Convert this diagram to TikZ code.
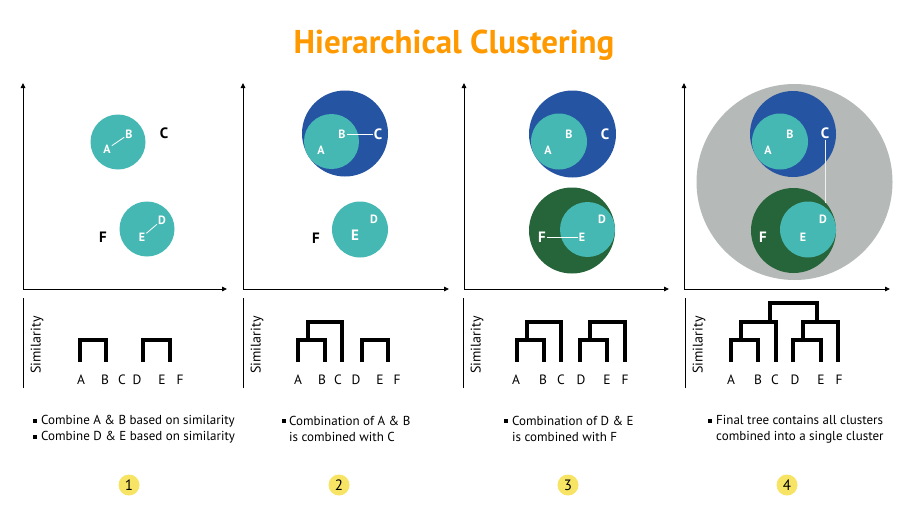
\documentclass[tikz,border=0pt]{standalone}
\usepackage{fontspec}
\setmainfont{PT Sans}
\usetikzlibrary{arrows.meta}
\definecolor{tealc}{RGB}{69,184,180}
\definecolor{bluec}{RGB}{37,84,163}
\definecolor{greenc}{RGB}{38,100,58}
\definecolor{grayc}{RGB}{181,185,183}
\definecolor{yelc}{RGB}{248,228,100}
\definecolor{orangec}{RGB}{255,153,0}
\begin{document}
\begin{tikzpicture}[x=1pt,y=-1pt,
  axis/.style={line width=0.9pt,-{Triangle[length=5pt,width=4.5pt]}},
  tree/.style={line width=4.5pt,line cap=butt,line join=miter},
  disc/.style={circle,inner sep=0pt,minimum size=#1},
  inl/.style={font=\fontsize{12}{12}\selectfont\bfseries,text=white,inner sep=1pt},
  inbig/.style={font=\fontsize{15}{15}\selectfont\bfseries,text=white,inner sep=1pt},
  outl/.style={font=\fontsize{15}{15}\selectfont\bfseries,text=black,inner sep=1pt},
  link/.style={draw=white,line width=0.8pt},
  leaf/.style={font=\fontsize{13.5}{13.5}\selectfont,inner sep=0pt},
  simlab/.style={rotate=90,font=\fontsize{14}{14}\selectfont},
  body/.style={font=\fontsize{13}{16}\selectfont,align=left,anchor=west,inner sep=0pt},
  bul/.style={fill=black,inner sep=0pt,minimum size=3.8pt},
  num/.style={circle,fill=yelc,inner sep=0pt,minimum size=21pt,font=\fontsize{15}{15}\selectfont}
]
\useasboundingbox[fill=white] (0,0) rectangle (912,509);

% title
\node[font=\fontsize{33}{33}\selectfont\bfseries,text=orangec] (title) at (454,45) {Hierarchical Clustering};

% ---------- Panel 1 ----------
\coordinate (o1) at (23,289);
\coordinate (y1) at (23,83);
\coordinate (x1) at (227,289);
\draw[axis] (o1) -- (y1);
\draw[axis] (o1) -- (x1);
\node[disc=55pt,fill=tealc] (p1ab) at (118,142) {};
\node[disc=55pt,fill=tealc] (p1de) at (147,229) {};
\node[inl] (p1A) at (107,149) {A};
\node[inl] (p1B) at (129,134) {B};
\node[inl] (p1D) at (162,220) {D};
\node[inl] (p1E) at (142,237) {E};
\draw[link] (p1A) -- (p1B);
\draw[link] (p1E) -- (p1D);
\node[outl] (p1C) at (164,133) {C};
\node[outl] (p1F) at (103,237) {F};

% ---------- Panel 2 ----------
\coordinate (o2) at (243,289);
\coordinate (y2) at (243,83);
\coordinate (x2) at (449,289);
\draw[axis] (o2) -- (y2);
\draw[axis] (o2) -- (x2);
\node[disc=86pt,fill=bluec] (p2abc) at (345,133.5) {};
\node[disc=55pt,fill=tealc] (p2ab) at (331.5,141.5) {};
\node[disc=56pt,fill=tealc] (p2de) at (360,229.5) {};
\node[inl] (p2A) at (321,150) {A};
\node[inl] (p2B) at (342,134) {B};
\node[inbig] (p2C) at (378,134) {C};
\draw[link] (p2B) -- (p2C);
\node[inl] (p2D) at (374,219) {D};
\node[inbig] (p2E) at (355,235) {E};
\node[outl] (p2F) at (316,238) {F};

% ---------- Panel 3 ----------
\coordinate (o3) at (464,289);
\coordinate (y3) at (464,83);
\coordinate (x3) at (669,289);
\draw[axis] (o3) -- (y3);
\draw[axis] (o3) -- (x3);
\node[disc=87pt,fill=bluec] (p3abc) at (572.5,134) {};
\node[disc=56pt,fill=tealc] (p3ab) at (559,141.5) {};
\node[disc=86pt,fill=greenc] (p3def) at (572,230.5) {};
\node[disc=55pt,fill=tealc] (p3de) at (587.5,229.5) {};
\node[inl] (p3A) at (548,150) {A};
\node[inl] (p3B) at (569,134) {B};
\node[inbig] (p3C) at (605,134) {C};
\node[inl] (p3D) at (602,219) {D};
\node[inl] (p3E) at (582,237) {E};
\node[inbig] (p3F) at (542,237) {F};
\draw[link] (p3F) -- (p3E);

% ---------- Panel 4 ----------
\coordinate (o4) at (684,289);
\coordinate (y4) at (684,83);
\coordinate (x4) at (890,289);
\draw[axis] (o4) -- (y4);
\draw[axis] (o4) -- (x4);
\node[disc=196pt,fill=grayc] (p4all) at (794.5,182) {};
\node[disc=86pt,fill=bluec] (p4abc) at (793,134) {};
\node[disc=56pt,fill=tealc] (p4ab) at (780,141.5) {};
\node[disc=85pt,fill=greenc] (p4def) at (793.5,230.5) {};
\node[disc=56pt,fill=tealc] (p4de) at (808,229.5) {};
\node[inl] (p4A) at (768,150) {A};
\node[inl] (p4B) at (790,134) {B};
\node[inbig] (p4C) at (825,133) {C};
\node[inl] (p4D) at (823,219) {D};
\node[inl] (p4E) at (803,237) {E};
\node[inbig] (p4F) at (763,237) {F};
\coordinate (p4end) at (825,203);
\draw[draw=white!88!gray,line width=1pt] (p4C) -- (p4end);

% ---------- Dendrograms ----------
% panel 1
\draw[line width=0.9pt] (23,298) -- (23,388);
\node[simlab] (s1) at (37,345) {Similarity};
\foreach \n/\x in {A/81,B/105,C/122,D/137,E/162,F/180}
  \node[leaf] (d1\n) at (\x,380) {\n};
\draw[tree] (80,362) -- (80,340) -- (106,340) -- (106,362);
\draw[tree] (143,362) -- (143,340) -- (170,340) -- (170,362);

% panel 2
\draw[line width=0.9pt] (243,298) -- (243,388);
\node[simlab] (s2) at (257,345) {Similarity};
\foreach \n/\x in {A/298,B/322,C/338,D/356,E/380,F/397}
  \node[leaf] (d2\n) at (\x,380) {\n};
\draw[tree] (298,362) -- (298,340) -- (325,340) -- (325,362);
\draw[tree] (308,340) -- (308,322) -- (342,322) -- (342,362);
\draw[tree] (362,362) -- (362,340) -- (388,340) -- (388,362);

% panel 3
\draw[line width=0.9pt] (463,298) -- (463,388);
\node[simlab] (s3) at (477,345) {Similarity};
\foreach \n/\x in {A/516,B/543,C/561,D/581,E/607,F/625}
  \node[leaf] (d3\n) at (\x,380) {\n};
\draw[tree] (517,362) -- (517,340) -- (544,340) -- (544,362);
\draw[tree] (527,340) -- (527,322) -- (561,322) -- (561,362);
\draw[tree] (580,362) -- (580,340) -- (607,340) -- (607,362);
\draw[tree] (590,340) -- (590,322) -- (625,322) -- (625,362);

% panel 4
\draw[line width=0.9pt] (685,298) -- (685,388);
\node[simlab] (s4) at (699,345) {Similarity};
\foreach \n/\x in {A/731,B/758,C/775,D/795,E/821,F/839}
  \node[leaf] (d4\n) at (\x,380) {\n};
\draw[tree] (731,362) -- (731,340) -- (758,340) -- (758,362);
\draw[tree] (741,340) -- (741,322) -- (776,322) -- (776,362);
\draw[tree] (793,362) -- (793,340) -- (821,340) -- (821,362);
\draw[tree] (803,340) -- (803,322) -- (838,322) -- (838,362);
\draw[tree] (770,322) -- (770,303) -- (817,303) -- (817,322);

% ---------- Descriptions ----------
\node[bul] (b1a) at (35,421) {};
\node[bul] (b1b) at (35,437) {};
\node[body] (t1) at (41,429) {Combine A \& B based on similarity\\Combine D \& E based on similarity};
\node[bul] (b2) at (284,421) {};
\node[body] (t2) at (289,429) {Combination of A \& B\\is combined with C};
\node[bul] (b3) at (506,421) {};
\node[body] (t3) at (512,429) {Combination of D \& E\\is combined with F};
\node[bul] (b4) at (710,421) {};
\node[body] (t4) at (716,429) {Final tree contains all clusters\\combined into a single cluster};

% ---------- Step numbers ----------
\node[num] (n1) at (129,485) {1};
\node[num] (n2) at (339,485) {2};
\node[num] (n3) at (568,485) {3};
\node[num] (n4) at (787,485) {4};
\end{tikzpicture}
\end{document}
